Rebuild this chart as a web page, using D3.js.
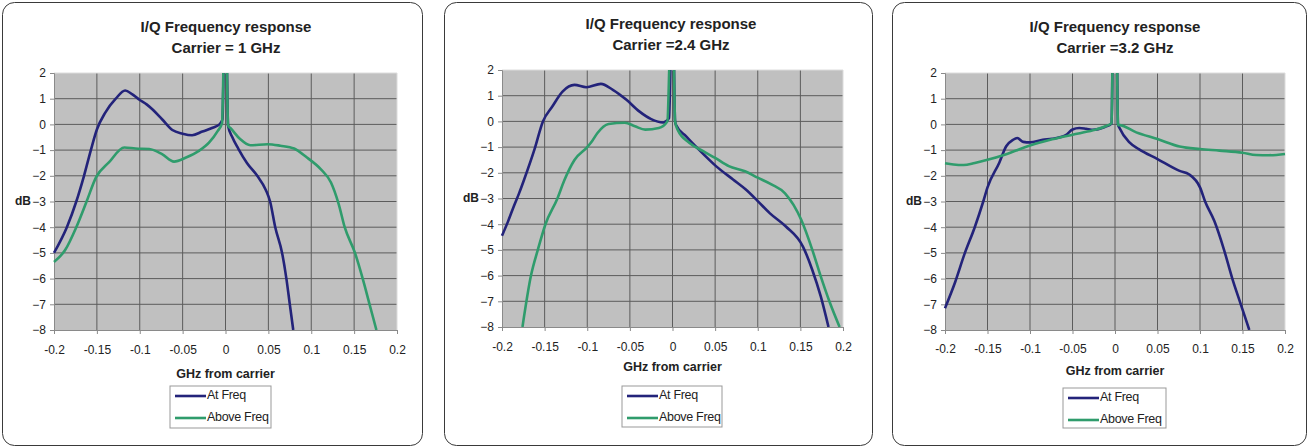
<!DOCTYPE html>
<html>
<head>
<meta charset="utf-8">
<script src="https://cdn.jsdelivr.net/npm/d3@7"></script>
<style>
  body { margin: 0; background: #fff; }
  text { font-family: "Liberation Sans", Arial, sans-serif; fill: #222; }
</style>
</head>
<body>
<svg id="chart"></svg>
<script>
const width = 1308;
const height = 448;

// shared axes
const xTicks = [-0.2, -0.15, -0.1, -0.05, 0, 0.05, 0.1, 0.15, 0.2];
const yTicks = [2, 1, 0, -1, -2, -3, -4, -5, -6, -7, -8];
const seriesNames = ["At Freq", "Above Freq"];
const seriesColors = ["#23237a", "#2f9c6c"];
const titles = ["Carrier = 1 GHz", "Carrier =2.4 GHz", "Carrier =3.2 GHz"];

// [GHz from carrier, dB]
const atFreq1 = [[-0.2,-5.0],[-0.185,-4.0],[-0.174,-3.0],[-0.165,-2.0],[-0.157,-1.0],[-0.15,-0.2],[-0.14,0.47],[-0.128,1.0],[-0.117,1.32],[-0.109,1.18],[-0.1,0.95],[-0.092,0.78],[-0.085,0.58],[-0.074,0.2],[-0.062,-0.22],[-0.05,-0.36],[-0.039,-0.42],[-0.027,-0.28],[-0.015,-0.13],[-0.007,0.0],[-0.0035,0.2],[-0.0015,3],[0.001,3],[0.003,-0.05],[0.008,-0.5],[0.015,-0.95],[0.025,-1.5],[0.037,-2.0],[0.047,-2.55],[0.052,-3.0],[0.058,-4.0],[0.066,-5.0],[0.071,-6.0],[0.075,-7.0],[0.079,-8.0]];
const aboveFreq1 = [[-0.2,-5.35],[-0.187,-4.89],[-0.174,-4.0],[-0.162,-3.0],[-0.151,-2.06],[-0.136,-1.48],[-0.118,-0.9],[-0.105,-0.94],[-0.089,-0.96],[-0.074,-1.16],[-0.06,-1.45],[-0.046,-1.29],[-0.031,-1.03],[-0.019,-0.7],[-0.009,-0.25],[-0.004,0.05],[-0.0015,3],[0.001,3],[0.003,-0.05],[0.006,-0.15],[0.017,-0.57],[0.029,-0.81],[0.049,-0.77],[0.064,-0.83],[0.08,-0.94],[0.095,-1.29],[0.111,-1.74],[0.123,-2.26],[0.132,-3.1],[0.139,-4.0],[0.151,-5.0],[0.16,-6.0],[0.168,-7.0],[0.176,-8.0]];

const atFreq2 = [[-0.2,-4.45],[-0.193,-3.9],[-0.186,-3.29],[-0.18,-2.8],[-0.174,-2.26],[-0.162,-1.1],[-0.152,0.0],[-0.141,0.58],[-0.129,1.16],[-0.115,1.42],[-0.101,1.33],[-0.084,1.46],[-0.07,1.23],[-0.054,0.84],[-0.039,0.39],[-0.025,0.09],[-0.011,-0.04],[-0.004,0.13],[-0.0015,3],[0.001,3],[0.003,0.0],[0.004,-0.13],[0.016,-0.58],[0.031,-1.1],[0.051,-1.74],[0.071,-2.26],[0.086,-2.65],[0.1,-3.1],[0.114,-3.57],[0.133,-4.09],[0.153,-4.87],[0.164,-5.78],[0.174,-6.82],[0.183,-8.0]];
const aboveFreq2 = [[-0.176,-8.0],[-0.166,-6.0],[-0.158,-5.0],[-0.149,-4.0],[-0.135,-3.0],[-0.127,-2.3],[-0.115,-1.5],[-0.1,-1.0],[-0.094,-0.75],[-0.088,-0.45],[-0.075,-0.1],[-0.056,-0.05],[-0.044,-0.19],[-0.032,-0.32],[-0.016,-0.26],[-0.006,0.0],[-0.0025,3],[0.001,3],[0.003,0.0],[0.006,-0.32],[0.02,-0.84],[0.036,-1.16],[0.05,-1.42],[0.066,-1.74],[0.085,-1.94],[0.1,-2.19],[0.116,-2.45],[0.132,-2.8],[0.151,-3.83],[0.164,-5.0],[0.174,-6.04],[0.184,-7.0],[0.196,-8.0]];

const atFreq3 = [[-0.2,-7.15],[-0.188,-6.13],[-0.177,-5.04],[-0.165,-4.0],[-0.155,-3.0],[-0.15,-2.45],[-0.136,-1.48],[-0.128,-0.85],[-0.12,-0.6],[-0.115,-0.53],[-0.108,-0.68],[-0.1,-0.7],[-0.085,-0.6],[-0.074,-0.56],[-0.058,-0.42],[-0.05,-0.2],[-0.042,-0.14],[-0.034,-0.17],[-0.026,-0.21],[-0.012,-0.1],[-0.004,0.03],[-0.0025,3],[0.002,3],[0.0035,0.0],[0.005,-0.12],[0.017,-0.7],[0.028,-0.96],[0.05,-1.35],[0.076,-1.81],[0.087,-1.94],[0.1,-2.45],[0.106,-3.0],[0.117,-3.77],[0.128,-4.85],[0.138,-6.0],[0.148,-7.0],[0.158,-8.0]];
const aboveFreq3 = [[-0.2,-1.51],[-0.19,-1.56],[-0.178,-1.58],[-0.165,-1.5],[-0.15,-1.38],[-0.128,-1.16],[-0.1,-0.82],[-0.074,-0.58],[-0.05,-0.4],[-0.026,-0.23],[-0.011,-0.07],[-0.004,0.05],[-0.0025,3],[0.002,3],[0.0035,-0.03],[0.005,-0.03],[0.025,-0.31],[0.05,-0.57],[0.076,-0.86],[0.1,-0.96],[0.123,-1.02],[0.15,-1.1],[0.166,-1.19],[0.181,-1.2],[0.2,-1.15]];

const panelSeries = [[atFreq1, aboveFreq1], [atFreq2, aboveFreq2], [atFreq3, aboveFreq3]];

// layout of each framed panel
const panels = [
  { box: [2.5, 2.5, 420, 443], plot: [54, 73, 397, 330], cx: 226, tY: 28, tickY: 350, axY: 375, leg: [170, 386, 101, 42] },
  { box: [444.5, 2.5, 428, 443], plot: [502, 70, 843, 327], cx: 671, tY: 25, tickY: 347, axY: 368, leg: [622, 386, 100, 41] },
  { box: [892.5, 2.5, 414, 443], plot: [945, 73, 1285, 330], cx: 1115, tY: 28, tickY: 349, axY: 372, leg: [1063, 388, 103, 40] }
];

const svg = d3.select("#chart")
  .attr("width", width)
  .attr("height", height)
  .attr("viewBox", [0, 0, width, height]);

panels.forEach((p, i) => {
  const g = svg.append("g");
  const [l, t, r, b] = p.plot;

  g.append("rect")
    .attr("x", p.box[0]).attr("y", p.box[1])
    .attr("width", p.box[2]).attr("height", p.box[3])
    .attr("rx", 12)
    .attr("fill", "#fff")
    .attr("stroke", "#3a3a3a")
    .attr("stroke-width", 1);

  const x = d3.scaleLinear().domain([-0.2, 0.2]).range([l, r]);
  const y = d3.scaleLinear().domain([-8, 2]).range([b, t]);

  // titles
  g.append("text").attr("x", p.cx).attr("y", p.tY).attr("text-anchor", "middle")
    .attr("dominant-baseline", "middle").attr("font-size", 15).attr("font-weight", "bold")
    .text("I/Q Frequency response");
  g.append("text").attr("x", p.cx).attr("y", p.tY + 21).attr("text-anchor", "middle")
    .attr("dominant-baseline", "middle").attr("font-size", 15).attr("font-weight", "bold")
    .text(titles[i]);

  // plot area
  g.append("rect").attr("x", l).attr("y", t).attr("width", r - l).attr("height", b - t)
    .attr("fill", "#c0c0c0");

  // grid
  g.append("g").selectAll("line").data(yTicks.slice(1, -1)).join("line")
    .attr("x1", l).attr("x2", r)
    .attr("y1", d => y(d)).attr("y2", d => y(d))
    .attr("stroke", "#5c5c5c").attr("stroke-width", 1);
  g.append("g").selectAll("line").data(xTicks.slice(1, -1)).join("line")
    .attr("y1", t).attr("y2", b)
    .attr("x1", d => x(d)).attr("x2", d => x(d))
    .attr("stroke", "#5c5c5c").attr("stroke-width", 1);

  // plot border: light top/right, grey axes
  g.append("line").attr("x1", l).attr("x2", r).attr("y1", t).attr("y2", t).attr("stroke", "#dcdcdc");
  g.append("line").attr("x1", r).attr("x2", r).attr("y1", t).attr("y2", b).attr("stroke", "#dcdcdc");

  const yAxis = g.append("g").attr("transform", `translate(${l},0)`)
    .call(d3.axisLeft(y).tickValues(yTicks).tickSize(4).tickPadding(4).tickFormat(d3.format("d")));
  const xAxis = g.append("g").attr("transform", `translate(0,${b})`)
    .call(d3.axisBottom(x).tickValues(xTicks).tickSize(4).tickPadding(4).tickFormat(d => d === 0 ? "0" : String(d)));
  [yAxis, xAxis].forEach(a => {
    a.select(".domain").attr("stroke", "#8a8a8a");
    a.selectAll(".tick line").attr("stroke", "#8a8a8a");
    a.selectAll("text").attr("font-size", 12).attr("fill", "#333").style("font-family", "Liberation Sans, Arial, sans-serif");
  });
  xAxis.selectAll("text").attr("y", p.tickY - b).attr("dy", "0.35em");

  // axis titles
  g.append("text").attr("x", l - 23).attr("y", y(-3)).attr("text-anchor", "end")
    .attr("dominant-baseline", "middle").attr("font-size", 12).attr("font-weight", "bold")
    .text("dB");
  g.append("text").attr("x", (l + r) / 2).attr("y", p.axY).attr("text-anchor", "middle")
    .attr("dominant-baseline", "middle").attr("font-size", 12.5).attr("font-weight", "bold")
    .attr("fill", "#333")
    .text("GHz from carrier");

  // curves
  const clipId = "clip" + i;
  g.append("clipPath").attr("id", clipId).append("rect")
    .attr("x", l - 2).attr("y", t).attr("width", r - l + 4).attr("height", b - t);
  const line = d3.line().x(d => x(d[0])).y(d => y(d[1])).curve(d3.curveMonotoneX);
  g.append("g").attr("clip-path", `url(#${clipId})`)
    .selectAll("path").data(panelSeries[i]).join("path")
    .attr("d", line)
    .attr("fill", "none")
    .attr("stroke", (d, k) => seriesColors[k])
    .attr("stroke-width", 2.6)
    .attr("stroke-linejoin", "round");

  // legend
  const [lx, ly, lw, lh] = p.leg;
  const leg = g.append("g");
  leg.append("rect").attr("x", lx).attr("y", ly).attr("width", lw).attr("height", lh)
    .attr("fill", "#fff").attr("stroke", "#999");
  seriesNames.forEach((name, k) => {
    const yy = ly + 10 + k * 22;
    leg.append("line").attr("x1", lx + 5).attr("x2", lx + 36).attr("y1", yy).attr("y2", yy)
      .attr("stroke", seriesColors[k]).attr("stroke-width", 2.6);
    leg.append("text").attr("x", lx + 37).attr("y", yy).attr("dominant-baseline", "middle")
      .attr("font-size", 12.5).attr("letter-spacing", -0.3).text(name);
  });
});
</script>
</body>
</html>
